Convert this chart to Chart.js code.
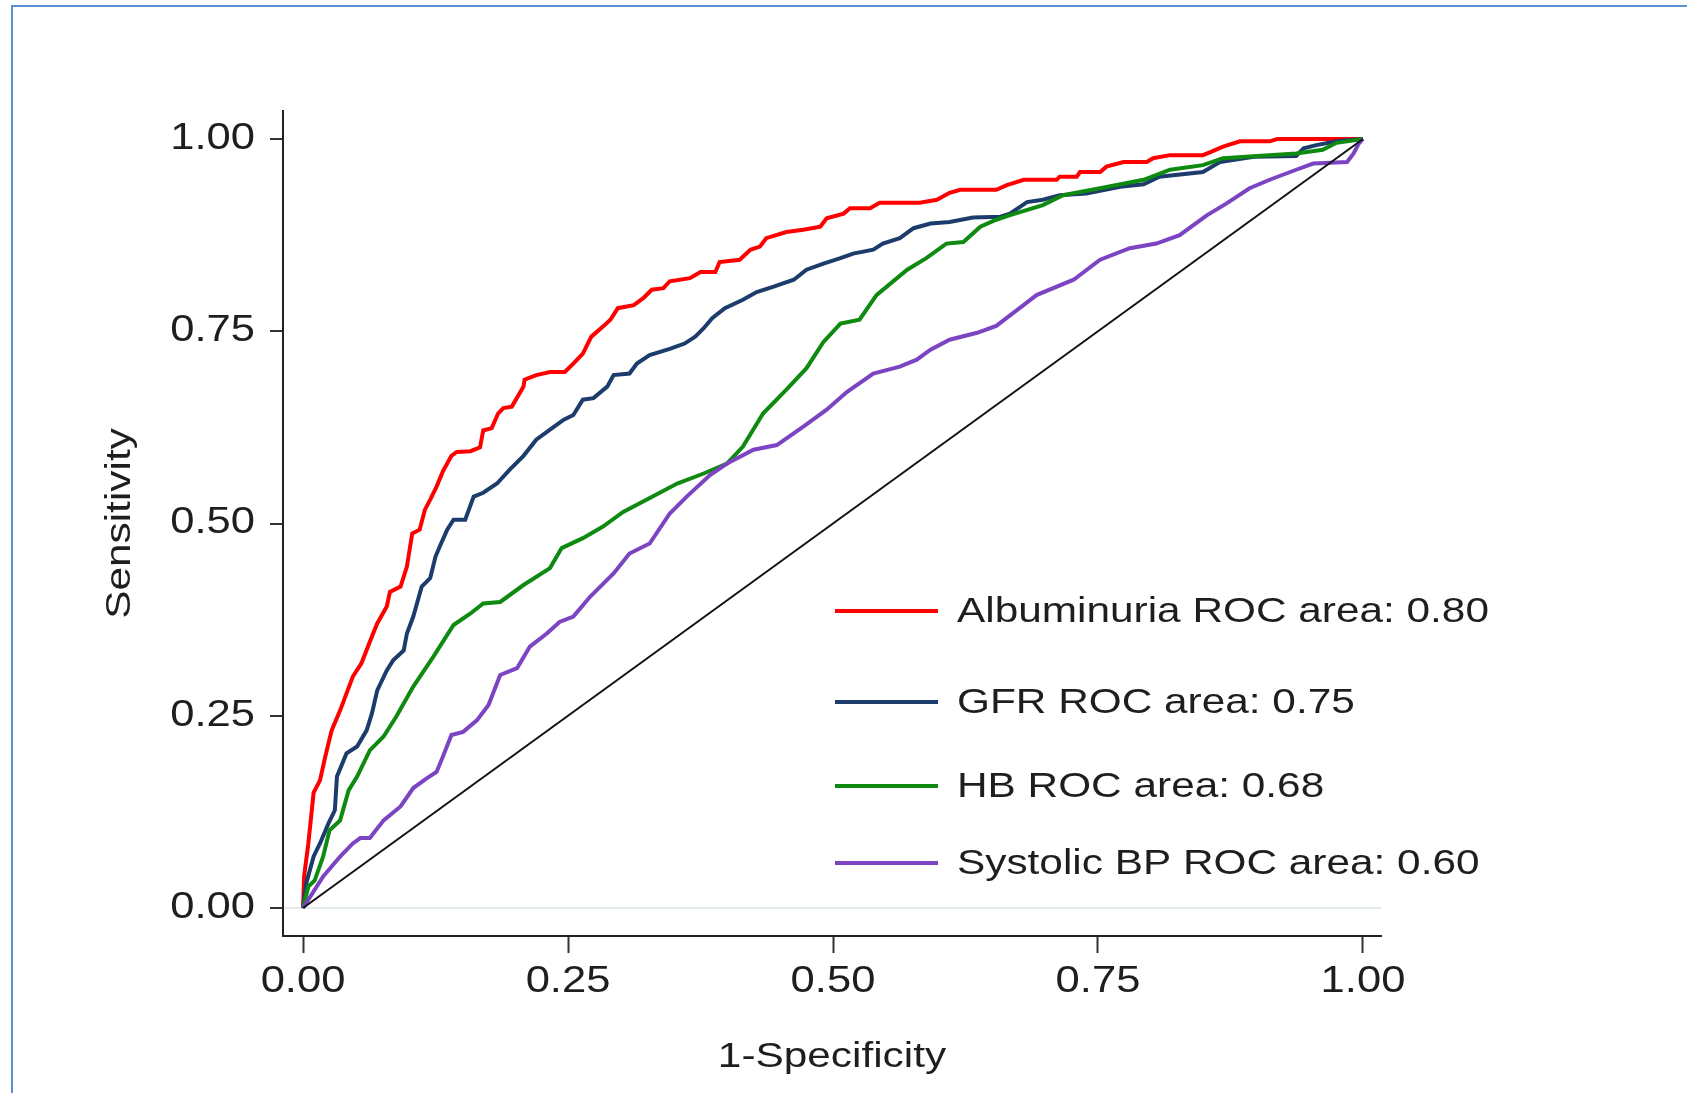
<!DOCTYPE html>
<html>
<head>
<meta charset="utf-8">
<script src="https://cdn.jsdelivr.net/npm/chart.js@4.4.1/dist/chart.umd.min.js"></script>
<style>
  html, body { margin: 0; padding: 0; background: #ffffff; }
  #wrap { position: relative; width: 1687px; height: 1093px; overflow: hidden; }
  #frame { position: absolute; left: 11px; top: 5px; width: 1720px; height: 1120px;
           border: 2px solid #5b8fd3; pointer-events: none; }
</style>
</head>
<body>
<div id="wrap">
  <canvas id="c" width="1687" height="1093"></canvas>
  <div id="frame"></div>
</div>
<script>
// ---- Data: [1-Specificity, Sensitivity] pairs ----
const seriesNames = [
  "Albuminuria ROC area: 0.80",
  "GFR ROC area: 0.75",
  "HB ROC area: 0.68",
  "Systolic BP ROC area: 0.60"
];
const albuminuria = [[0,0],[0.001,0.041],[0.005,0.084],[0.010,0.150],[0.016,0.166],[0.021,0.197],[0.027,0.231],[0.035,0.257],[0.047,0.301],[0.055,0.318],[0.065,0.353],[0.070,0.370],[0.079,0.392],[0.082,0.411],[0.092,0.418],[0.098,0.444],[0.103,0.487],[0.110,0.492],[0.115,0.518],[0.120,0.531],[0.126,0.548],[0.132,0.568],[0.140,0.588],[0.145,0.593],[0.158,0.594],[0.167,0.599],[0.170,0.621],[0.178,0.624],[0.184,0.643],[0.189,0.650],[0.197,0.652],[0.208,0.678],[0.209,0.687],[0.220,0.693],[0.233,0.697],[0.247,0.697],[0.255,0.708],[0.264,0.721],[0.272,0.743],[0.283,0.756],[0.290,0.765],[0.297,0.780],[0.312,0.784],[0.321,0.793],[0.329,0.804],[0.340,0.806],[0.346,0.815],[0.365,0.819],[0.375,0.827],[0.389,0.827],[0.393,0.840],[0.412,0.843],[0.422,0.856],[0.431,0.860],[0.437,0.871],[0.456,0.879],[0.472,0.882],[0.488,0.886],[0.494,0.897],[0.510,0.903],[0.516,0.910],[0.535,0.910],[0.544,0.917],[0.582,0.917],[0.598,0.921],[0.610,0.930],[0.620,0.934],[0.654,0.934],[0.664,0.940],[0.680,0.947],[0.711,0.947],[0.714,0.951],[0.730,0.951],[0.733,0.957],[0.752,0.957],[0.758,0.964],[0.774,0.970],[0.796,0.970],[0.802,0.975],[0.818,0.979],[0.849,0.979],[0.856,0.983],[0.868,0.990],[0.884,0.997],[0.912,0.997],[0.919,1.0],[1.0,1.0]];
const gfr = [[0,0],[0.003,0.032],[0.010,0.067],[0.016,0.084],[0.024,0.110],[0.030,0.127],[0.032,0.171],[0.041,0.201],[0.051,0.210],[0.060,0.231],[0.065,0.253],[0.070,0.283],[0.079,0.309],[0.085,0.322],[0.095,0.335],[0.098,0.357],[0.104,0.379],[0.112,0.418],[0.120,0.429],[0.125,0.457],[0.129,0.470],[0.136,0.492],[0.142,0.505],[0.153,0.505],[0.161,0.535],[0.170,0.540],[0.183,0.552],[0.195,0.570],[0.208,0.588],[0.220,0.609],[0.233,0.622],[0.246,0.635],[0.255,0.641],[0.264,0.661],[0.274,0.663],[0.287,0.678],[0.293,0.693],[0.308,0.695],[0.315,0.708],[0.327,0.719],[0.346,0.727],[0.360,0.734],[0.370,0.743],[0.378,0.754],[0.386,0.767],[0.398,0.780],[0.415,0.791],[0.428,0.801],[0.444,0.808],[0.463,0.817],[0.475,0.830],[0.491,0.838],[0.507,0.845],[0.519,0.851],[0.538,0.856],[0.547,0.864],[0.563,0.871],[0.576,0.884],[0.592,0.890],[0.610,0.892],[0.632,0.898],[0.658,0.899],[0.667,0.903],[0.683,0.918],[0.698,0.921],[0.714,0.927],[0.739,0.929],[0.771,0.938],[0.793,0.941],[0.808,0.951],[0.849,0.957],[0.865,0.970],[0.897,0.977],[0.937,0.978],[0.944,0.988],[0.956,0.992],[0.975,0.997],[1.0,1.0]];
const hb = [[0,0],[0.005,0.028],[0.011,0.036],[0.019,0.067],[0.025,0.101],[0.035,0.114],[0.043,0.153],[0.051,0.171],[0.063,0.205],[0.076,0.223],[0.088,0.249],[0.104,0.288],[0.123,0.327],[0.142,0.368],[0.158,0.383],[0.170,0.396],[0.186,0.398],[0.208,0.420],[0.233,0.442],[0.244,0.468],[0.264,0.481],[0.283,0.496],[0.302,0.515],[0.324,0.531],[0.353,0.552],[0.378,0.565],[0.400,0.578],[0.415,0.600],[0.434,0.643],[0.456,0.674],[0.475,0.702],[0.491,0.736],[0.507,0.760],[0.525,0.765],[0.541,0.797],[0.570,0.830],[0.588,0.845],[0.607,0.864],[0.623,0.866],[0.639,0.886],[0.654,0.895],[0.667,0.901],[0.698,0.914],[0.717,0.927],[0.752,0.936],[0.793,0.947],[0.818,0.960],[0.849,0.966],[0.868,0.975],[0.937,0.981],[0.962,0.986],[0.975,0.995],[1.0,1.0]];
const systolicBP = [[0,0],[0.019,0.041],[0.035,0.067],[0.047,0.084],[0.054,0.091],[0.063,0.091],[0.076,0.114],[0.092,0.132],[0.104,0.156],[0.117,0.169],[0.126,0.177],[0.132,0.197],[0.140,0.225],[0.151,0.229],[0.164,0.244],[0.175,0.264],[0.186,0.303],[0.202,0.312],[0.214,0.340],[0.230,0.357],[0.242,0.372],[0.255,0.379],[0.271,0.405],[0.293,0.435],[0.308,0.461],[0.327,0.474],[0.346,0.513],[0.362,0.535],[0.384,0.563],[0.400,0.578],[0.425,0.596],[0.447,0.602],[0.472,0.626],[0.494,0.648],[0.513,0.671],[0.538,0.695],[0.563,0.704],[0.579,0.713],[0.592,0.726],[0.610,0.739],[0.636,0.748],[0.654,0.757],[0.676,0.780],[0.692,0.797],[0.727,0.817],[0.752,0.843],[0.780,0.858],[0.805,0.864],[0.827,0.875],[0.853,0.901],[0.871,0.916],[0.893,0.936],[0.912,0.947],[0.937,0.960],[0.953,0.968],[0.985,0.970],[0.991,0.981],[0.996,0.994],[1.0,1.0]];
const reference = [[0,0],[1,1]];
const xTicks = [0, 0.25, 0.5, 0.75, 1];
const yTicks = [0, 0.25, 0.5, 0.75, 1];

// ---- Styling ----
const colors = ["#ff0000", "#1c3c6c", "#0e8a10", "#7c44c2"];
const FONT = "'Liberation Sans', Arial, sans-serif";
const TEXT_COLOR = "#1e1e1e";
const TEXT_STRETCH = 1.21;
const legendLayout = { lineX0: 835, lineX1: 938, textX: 957, rows: [611, 702, 786, 863], baselineOffset: 11, fontSize: 35 };

const toXY = arr => arr.map(p => ({ x: p[0], y: p[1] }));
const curves = [albuminuria, gfr, hb, systolicBP];

const datasets = curves.map((c, i) => ({
  label: seriesNames[i],
  data: toXY(c),
  borderColor: colors[i],
  borderWidth: 4,
  pointRadius: 0,
  fill: false,
  tension: 0,
  order: 4 - i
}));
datasets.push({
  label: "Reference",
  data: toXY(reference),
  borderColor: "#111111",
  borderWidth: 2,
  pointRadius: 0,
  fill: false,
  order: 0
});

const stretchAndLegend = {
  id: 'stretchAndLegend',
  beforeDraw(chart) {
    const ctx = chart.ctx;
    const orig = CanvasRenderingContext2D.prototype.fillText;
    ctx.fillText = function (text, x, y) {
      this.save();
      this.translate(x, y);
      this.scale(TEXT_STRETCH, 1);
      orig.call(this, text, 0, 0);
      this.restore();
    };
  },
  afterDraw(chart) {
    const ctx = chart.ctx;
    ctx.save();
    ctx.font = legendLayout.fontSize + "px " + FONT;
    ctx.textAlign = "left";
    ctx.textBaseline = "alphabetic";
    seriesNames.forEach((name, i) => {
      const y = legendLayout.rows[i];
      ctx.strokeStyle = colors[i];
      ctx.lineWidth = 4;
      ctx.beginPath();
      ctx.moveTo(legendLayout.lineX0, y);
      ctx.lineTo(legendLayout.lineX1, y);
      ctx.stroke();
      ctx.fillStyle = TEXT_COLOR;
      ctx.fillText(name, legendLayout.textX, y + legendLayout.baselineOffset);
    });
    ctx.restore();
    delete ctx.fillText;
  }
};

new Chart(document.getElementById('c'), {
  type: 'line',
  data: { datasets },
  plugins: [stretchAndLegend],
  options: {
    responsive: false,
    animation: false,
    events: [],
    layout: { padding: { left: 0, top: 111, right: 306, bottom: 0 } },
    plugins: { legend: { display: false }, tooltip: { enabled: false } },
    scales: {
      x: {
        type: 'linear',
        min: -0.0189,
        max: 1.017,
        afterFit: s => { s.height = 157; },
        afterBuildTicks: s => { s.ticks = xTicks.map(v => ({ value: v })); },
        ticks: {
          callback: v => Number(v).toFixed(2),
          color: TEXT_COLOR,
          font: { family: FONT, size: 36 },
          padding: 7,
          maxRotation: 0,
          autoSkip: false
        },
        grid: { drawOnChartArea: false, drawTicks: true, tickLength: 17, tickColor: "#333333", tickWidth: 2 },
        border: { display: true, color: "#222222", width: 2 },
        title: {
          display: true,
          text: "1-Specificity",
          color: TEXT_COLOR,
          font: { family: FONT, size: 35 },
          padding: { top: 0, bottom: 15 }
        }
      },
      y: {
        type: 'linear',
        min: -0.0364,
        max: 1.0364,
        afterFit: s => { s.width = 283; },
        afterBuildTicks: s => { s.ticks = yTicks.map(v => ({ value: v })); },
        ticks: {
          callback: v => Number(v).toFixed(2),
          color: TEXT_COLOR,
          font: { family: FONT, size: 36 },
          padding: 15,
          autoSkip: false
        },
        grid: {
          drawOnChartArea: true,
          drawTicks: true,
          tickLength: 13,
          tickColor: "#333333",
          tickWidth: 2,
          lineWidth: 2,
          color: c => (c.tick && c.tick.value === 0) ? "#e3ebef" : "rgba(0,0,0,0)"
        },
        border: { display: true, color: "#222222", width: 2 },
        title: {
          display: true,
          text: "Sensitivity",
          color: TEXT_COLOR,
          font: { family: FONT, size: 35 },
          padding: { top: 99, bottom: 0 }
        }
      }
    }
  }
});
</script>
</body>
</html>
